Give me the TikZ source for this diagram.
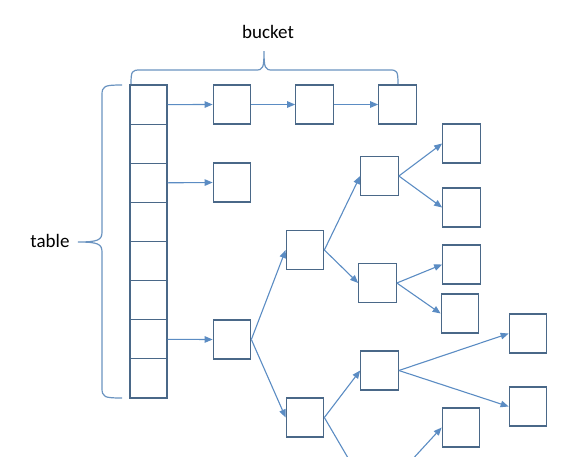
\documentclass[tikz,border=0pt]{standalone}
\usepackage{fontspec}
\setmainfont{Carlito}
\usepackage{xcolor}
\usetikzlibrary{arrows.meta}

\definecolor{boxc}{HTML}{4A6888}
\definecolor{arrc}{HTML}{5B8CC3}
\definecolor{bracec}{HTML}{6A93C0}

\tikzset{
  cell/.style={draw=boxc, line width=1.2pt, minimum width=37.5pt, minimum height=39pt, inner sep=0pt},
  link/.style={draw=arrc, line width=1.1pt, -{Triangle[length=8pt,width=6.5pt]}},
  brace/.style={draw=bracec, line width=1.2pt},
  lbl/.style={font=\fontsize{19}{22}\selectfont, anchor=base}
}

\begin{document}
\begin{tikzpicture}[x=1pt, y=-1pt]
            \clip (0,0) rectangle (588,456);

            % the table
            \node[cell, minimum width=37pt, minimum height=39.1pt] (t1) at (148.5, 104.6) {};
            \node[cell, minimum width=37pt, minimum height=39.1pt] (t2) at (148.5, 143.7) {};
            \node[cell, minimum width=37pt, minimum height=39.1pt] (t3) at (148.5, 182.8) {};
            \node[cell, minimum width=37pt, minimum height=39.1pt] (t4) at (148.5, 221.9) {};
            \node[cell, minimum width=37pt, minimum height=39.1pt] (t5) at (148.5, 261.1) {};
            \node[cell, minimum width=37pt, minimum height=39.1pt] (t6) at (148.5, 300.2) {};
            \node[cell, minimum width=37pt, minimum height=39.1pt] (t7) at (148.5, 339.3) {};
            \node[cell, minimum width=37pt, minimum height=39.1pt] (t8) at (148.5, 378.4) {};

            % list and tree boxes
            \node[cell] (b1) at (232.0, 104.5) {};
            \node[cell] (b2) at (314.5, 104.5) {};
            \node[cell] (b3) at (397.5, 104.5) {};
            \node[cell] (c1) at (232.0, 182.5) {};
            \node[cell] (r)  at (232.0, 339.5) {};
            \node[cell] (n1) at (305.0, 250.0) {};
            \node[cell] (n2) at (305.0, 417.5) {};
            \node[cell] (n3) at (379.5, 176.0) {};
            \node[cell] (n4) at (377.5, 283.0) {};
            \node[cell] (n5) at (461.5, 143.5) {};
            \node[cell] (n6) at (461.5, 207.5) {};
            \node[cell] (n7) at (461.5, 264.5) {};
            \node[cell] (n8) at (460.0, 313.5) {};
            \node[cell] (n9) at (379.5, 370.5) {};
            \node[cell] (n10) at (528.0, 333.5) {};
            \node[cell] (n11) at (528.0, 406.5) {};
            \node[cell] (n12) at (461.0, 427.5) {};
            \coordinate (o1) at (358, 475);
            \coordinate (o2) at (398, 475);

            \draw[link] (t1.east) -- (b1.west); % t1-b1
            \draw[link] (b1.east) -- (b2.west); % b1-b2
            \draw[link] (b2.east) -- (b3.west); % b2-b3
            \draw[link] (t3.east) -- (c1.west); % t3-c1
            \draw[link] (t7.east) -- (r.west);  % t7-r
            \draw[link] (r.east) -- (n1.west);  % r-n1
            \draw[link] (r.east) -- (n2.west);  % r-n2
            \draw[link] (n1.east) -- (n3.west); % n1-n3
            \draw[link] (n1.east) -- (n4.west); % n1-n4
            \draw[link] (n3.east) -- (n5.west); % n3-n5
            \draw[link] (n3.east) -- (n6.west); % n3-n6
            \draw[link] (n4.east) -- (n7.west); % n4-n7
            \draw[link] (n4.east) -- (n8.west); % n4-n8
            \draw[link] (n2.east) -- (n9.west); % n2-n9
            \draw[draw=arrc, line width=1.1pt] (n2.east) -- (o1); % n2-out
            \draw[link] (o2) -- (n12.west); % in-n12
            \draw[link] (n9.east) -- (n10.west); % n9-n10
            \draw[link] (n9.east) -- (n11.west); % n9-n11

            % braces
            \draw[brace] (131,84) .. controls (131,71) and (132,70) .. (140,70) -- (256,70)
                .. controls (263,70) and (264,68) .. (264,51)
                .. controls (264,68) and (265,70) .. (272,70) -- (390,70)
                .. controls (397,70) and (398,71) .. (398,84); % bucket
            \draw[brace] (122,85) .. controls (104,85) and (102,86) .. (102,95) -- (102,232)
                .. controls (102,240) and (98,242) .. (78,242)
                .. controls (98,242) and (102,244) .. (102,252) -- (102,388)
                .. controls (102,397) and (104,398) .. (122,398); % table
            \node[lbl] (bucket) at (268, 38) {bucket};
            \node[lbl] (table) at (50, 247) {table};
        \end{tikzpicture}
\end{document}
